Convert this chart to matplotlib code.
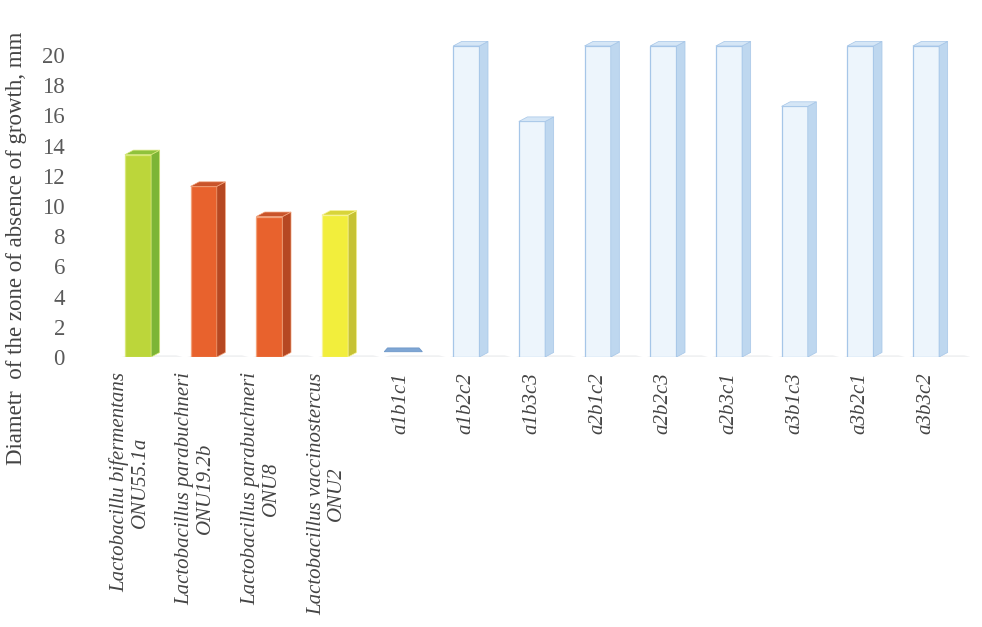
import matplotlib
matplotlib.use("Agg")
import matplotlib.pyplot as plt
from matplotlib.patches import Polygon

# Strains / combinations and the measured zone diameters (mm)
categories = [
    "Lactobacillu bifermentans\nONU55.1a",
    "Lactobacillus parabuchneri\nONU19.2b",
    "Lactobacillus parabuchneri\nONU8",
    "Lactobacillus vaccinostercus\nONU2",
    "a1b1c1", "a1b2c2", "a1b3c3", "a2b1c2", "a2b2c3",
    "a2b3c1", "a3b1c3", "a3b2c1", "a3b3c2",
]
values = [13.4, 11.3, 9.3, 9.4, 0.2, 20.6, 15.6, 20.6, 20.6, 20.6, 16.6, 20.6, 20.6]
y_ticks = [0, 2, 4, 6, 8, 10, 12, 14, 16, 18, 20]

# (front, side, top, edge) colours per bar
green = ("#bcd63a", "#7db536", "#8fc23c", "#d8e87a")
red = ("#e8622d", "#b64822", "#c9542a", "#f2a27a")
yellow = ("#f2ee3c", "#c6c234", "#d8d43a", "#f8f49a")
blue = ("#edf5fc", "#bed7ef", "#d5e6f6", "#a6c6e8")
blue_flat = ("#86acd8", "#6d97c8", "#7fa6d4", "#9dbde2")
bar_colors = [green, red, red, yellow, blue_flat] + [blue] * 8

W, H = 982, 627
fig = plt.figure(figsize=(W / 100, H / 100), dpi=100)
fig.patch.set_facecolor("white")

px_per_unit = 15.1
ymax = 21.5
ax = fig.add_axes([90 / W, (H - 357) / H, 880 / W, ymax * px_per_unit / H])
ax.set_xlim(-0.731, 12.67)
ax.set_ylim(0, ymax)

bw = 0.40          # front face width (data units)
dx = 0.13          # depth of the side face (x)
dy = 0.30          # depth of the top face (y)

for i, (v, c) in enumerate(zip(values, bar_colors)):
    front, side, top, edge = c
    x0 = i - bw / 2
    x1 = i + bw / 2
    # faint floor shadow
    ax.add_patch(Polygon([(x0 - 0.05, 0.0), (x1 + dx + 0.35, 0.0),
                          (x1 + dx + 0.25, 0.12), (x0 + 0.05, 0.12)],
                         closed=True, facecolor="#e3e4e7", edgecolor="none",
                         alpha=0.5, zorder=1))
    if v < 1:
        # nearly empty bar: only a thin slab is visible
        ax.add_patch(Polygon([(x0 - 0.05, 0.35), (x1 + dx, 0.35),
                              (x1 + dx - 0.05, 0.6), (x0, 0.6)],
                             closed=True, facecolor=top, edgecolor=side,
                             linewidth=0.6, zorder=3))
        continue
    ax.bar(i, v, width=bw, bottom=0, color=front, edgecolor=edge,
           linewidth=0.9, zorder=3)
    ax.add_patch(Polygon([(x1, 0), (x1 + dx, dy), (x1 + dx, v + dy), (x1, v)],
                         closed=True, facecolor=side, edgecolor=edge,
                         linewidth=0.5, zorder=3))
    ax.add_patch(Polygon([(x0, v), (x1, v), (x1 + dx, v + dy), (x0 + dx, v + dy)],
                         closed=True, facecolor=top, edgecolor=edge,
                         linewidth=0.5, zorder=3))

for s in ax.spines.values():
    s.set_visible(False)
ax.set_yticks(y_ticks)
ax.set_yticklabels([str(t) for t in y_ticks], fontfamily="Liberation Serif",
                   fontsize=16.5, color="#5a5a5a")
ax.tick_params(axis="y", length=0, pad=18)
ax.set_xticks([])

for i, lab in enumerate(categories):
    ax.annotate(lab, xy=(i, 0), xycoords="data", xytext=(-6 if "\n" in lab else 0, -11),
                textcoords="offset points", rotation=90, ha="center", va="top",
                multialignment="center", fontfamily="Liberation Serif",
                fontstyle="italic", fontsize=15, color="#444444",
                linespacing=1.1, annotation_clip=False)

fig.text(17 / W, 0.5 + (H / 2 - 248) / H, "Diametr  of the zone of absence of growth, mm",
         rotation=90, ha="center", va="center", fontfamily="Liberation Serif",
         fontsize=16.5, color="#444444")

fig.savefig("out.png", dpi=100, facecolor="white")
